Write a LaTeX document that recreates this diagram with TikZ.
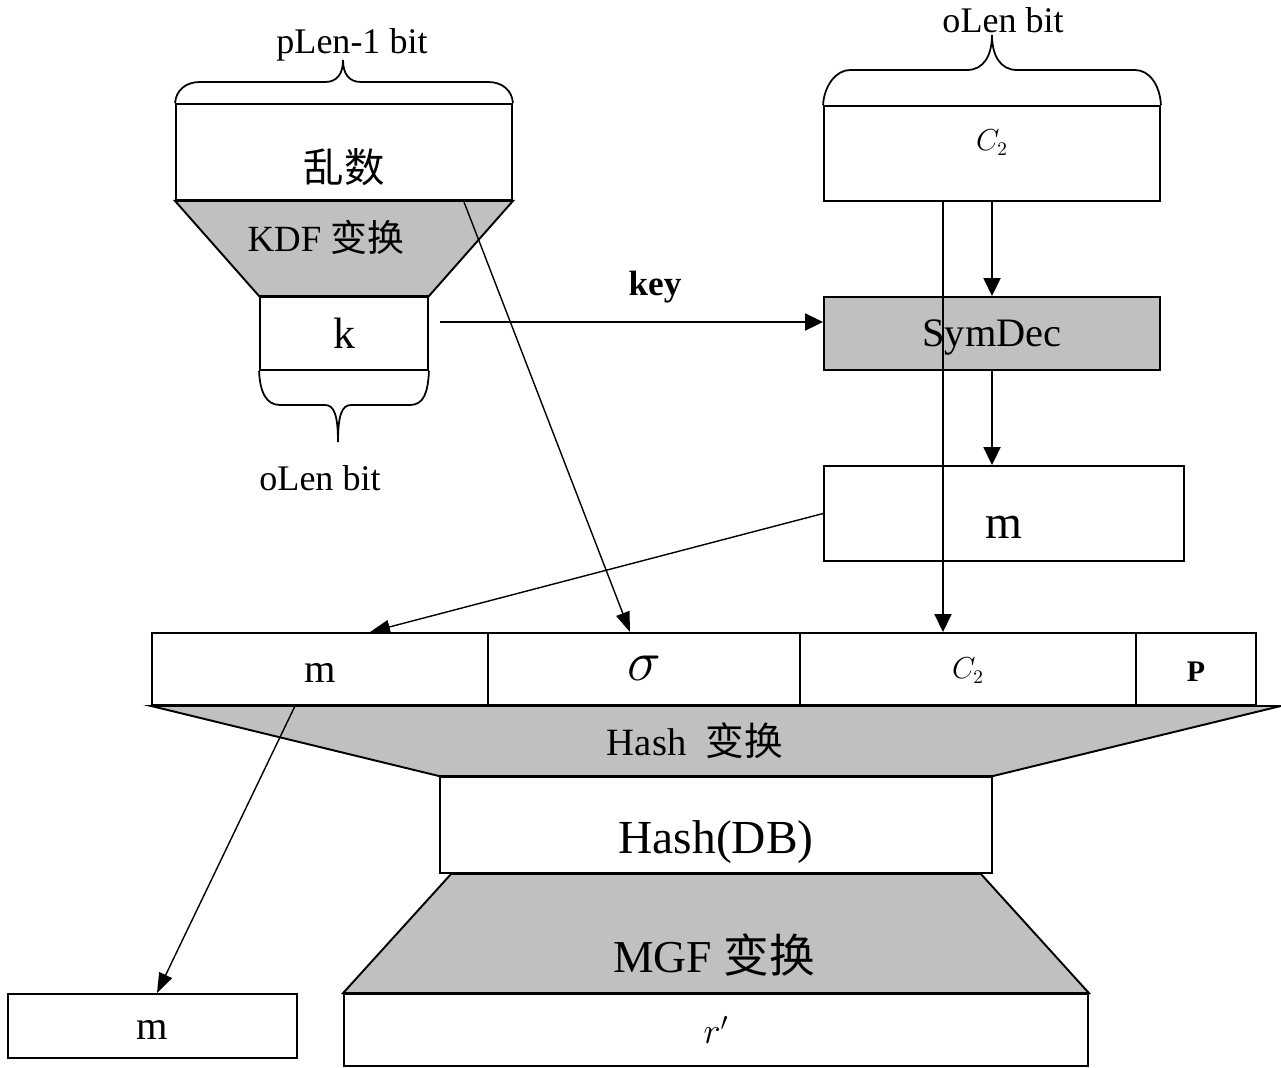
\documentclass[tikz,border=0pt]{standalone}
\usepackage{fontspec}
\setmainfont{Liberation Serif}
\newfontfamily\cjk{Noto Sans CJK SC}
\usetikzlibrary{arrows.meta,calc}
\definecolor{boxgray}{HTML}{C0C0C0}
\newcommand{\fsz}[1]{\fontsize{#1pt}{#1pt}\selectfont}

\begin{document}
\begin{tikzpicture}[
    x=0.02cm, y=-0.02cm,
    box/.style={rectangle, draw, line width=1.1pt, inner sep=0pt, fill=white},
    grey/.style={box, fill=boxgray},
    tx/.style={text height=#1, text depth=0pt},
    funnel/.style={draw, line width=1.1pt, fill=boxgray, line join=miter},
    brace/.style={draw, line width=1pt},
    lbl/.style={inner sep=0pt},
    arrow/.style={-{Triangle[length=0.36cm,width=0.34cm]}, line width=1.1pt},
    thinarrow/.style={-{Triangle[length=0.4cm,width=0.28cm]}, line width=0.8pt}
]
\useasboundingbox (0,0) rectangle (1281,1068);

\node[box, tx=1.22cm, minimum width=6.72cm, minimum height=1.92cm, font=\cjk\fsz{23}] (rand) at (344,152) {乱数};
\node[box, minimum width=3.36cm, minimum height=1.46cm, font=\fsz{25}] (k) at (344,333.5) {k};
\node[box, text height=0pt, text depth=0.12cm, minimum width=6.72cm, minimum height=1.9cm, font=\fsz{16}] (c2top) at (992,153.5) {$C_2$};
\node[grey, tx=0.54cm, minimum width=6.72cm, minimum height=1.46cm, font=\fsz{23}] (symdec) at (992,333.5) {SymDec};
\node[box, tx=0.98cm, minimum width=7.2cm, minimum height=1.9cm, font=\fsz{27}] (msg) at (1004,513.5) {m};

\node[box, tx=0.54cm, minimum width=6.72cm, minimum height=1.44cm, font=\fsz{23}] (dbm) at (320,669) {m};
\node[box, tx=0.44cm, minimum width=6.24cm, minimum height=1.44cm, font=\fsz{24.88}] (dbs) at (644,669) {\scalebox{1.3}{$\sigma$}};
\node[box, tx=0.38cm, minimum width=6.72cm, minimum height=1.44cm, font=\fsz{16}] (dbc) at (968,669) {$C_2$};
\node[box, tx=0.48cm, minimum width=2.4cm, minimum height=1.44cm, font=\fsz{17}\bfseries] (dbp) at (1196,669) {P};

\node[box, tx=1.14cm, minimum width=11.04cm, minimum height=1.92cm, font=\fsz{27}] (hdb) at (716,825) {Hash(DB)};
\node[box, minimum width=14.88cm, minimum height=1.44cm, font=\fsz{20}] (rp) at (716,1030) {$r'$};
\node[box, tx=0.54cm, minimum width=5.78cm, minimum height=1.28cm, font=\fsz{23}] (out) at (152.5,1026) {m};

\draw[funnel] (rand.south west) -- (rand.south east) -- (k.north east) -- (k.north west) -- cycle;
\node[lbl, font=\fsz{21}] (kdf) at (326,237) {KDF {\cjk 变换}};
\draw[funnel] (dbm.south west) -- ($(dbp.south east)+(24,0)$) -- (hdb.north east) -- (hdb.north west) -- cycle;
\node[lbl, font=\fsz{22}] (hash) at (695,741) {Hash\ \ {\cjk 变换}};
\draw[funnel] ($(hdb.south west)+(12,0)$) -- ($(hdb.south east)+(-12,0)$) -- (rp.north east) -- (rp.north west) -- cycle;
\node[lbl, font=\fsz{26}] (mgf) at (714,955) {MGF {\cjk 变换}};

\draw[brace] (rand.north west) .. controls (176,90) and (186,82) .. (200,82) -- (325,82)
    .. controls (337,82) and (343,74) .. (343,60) .. controls (343,74) and (349,82) .. (361,82)
    -- (488,82) .. controls (502,82) and (512,90) .. (rand.north east);
\node[lbl, font=\fsz{20.5}] (plen) at (352,45) {pLen-1 bit};
\draw[brace] (c2top.north west) .. controls (824,86) and (836,70) .. (850,70) -- (967,70)
    .. controls (984,70) and (992,55) .. (992,35) .. controls (992,55) and (1000,70) .. (1017,70)
    -- (1135,70) .. controls (1150,70) and (1160,86) .. (c2top.north east);
\node[lbl, font=\fsz{20.5}] (olentop) at (1003,20) {oLen bit};
\draw[brace] (k.south west) .. controls (260,392) and (266,405) .. (280,405) -- (325,405)
    .. controls (334,405) and (338,415) .. (338,442) .. controls (338,415) and (342,405) .. (351,405)
    -- (410,405) .. controls (424,405) and (428,392) .. (k.south east);
\node[lbl, font=\fsz{20.5}] (olenbot) at (320,478) {oLen bit};

\coordinate (keyst) at (440,322);
\coordinate (cx) at (943,0);
\coordinate (kdfst) at (464,202);
\coordinate (sx) at (630,0);
\coordinate (mx) at (370,0);
\coordinate (dx) at (295,0);
\coordinate (ox) at (157,0);

\draw[arrow] (keyst) -- (keyst -| symdec.west);
\node[lbl, font=\fsz{20}\bfseries] (key) at (655,287) {key};
\draw[arrow] (c2top.south) -- (symdec.north);
\draw[arrow] (symdec.south) -- (symdec.south |- msg.north);
\draw[arrow] (c2top.south -| cx) -- (dbc.north -| cx);
\draw[thinarrow] (kdfst) -- (dbs.north -| sx);
\draw[thinarrow] (msg.west) -- (dbm.north -| mx);
\draw[thinarrow] (dbm.south -| dx) -- (out.north -| ox);
\end{tikzpicture}
\end{document}
